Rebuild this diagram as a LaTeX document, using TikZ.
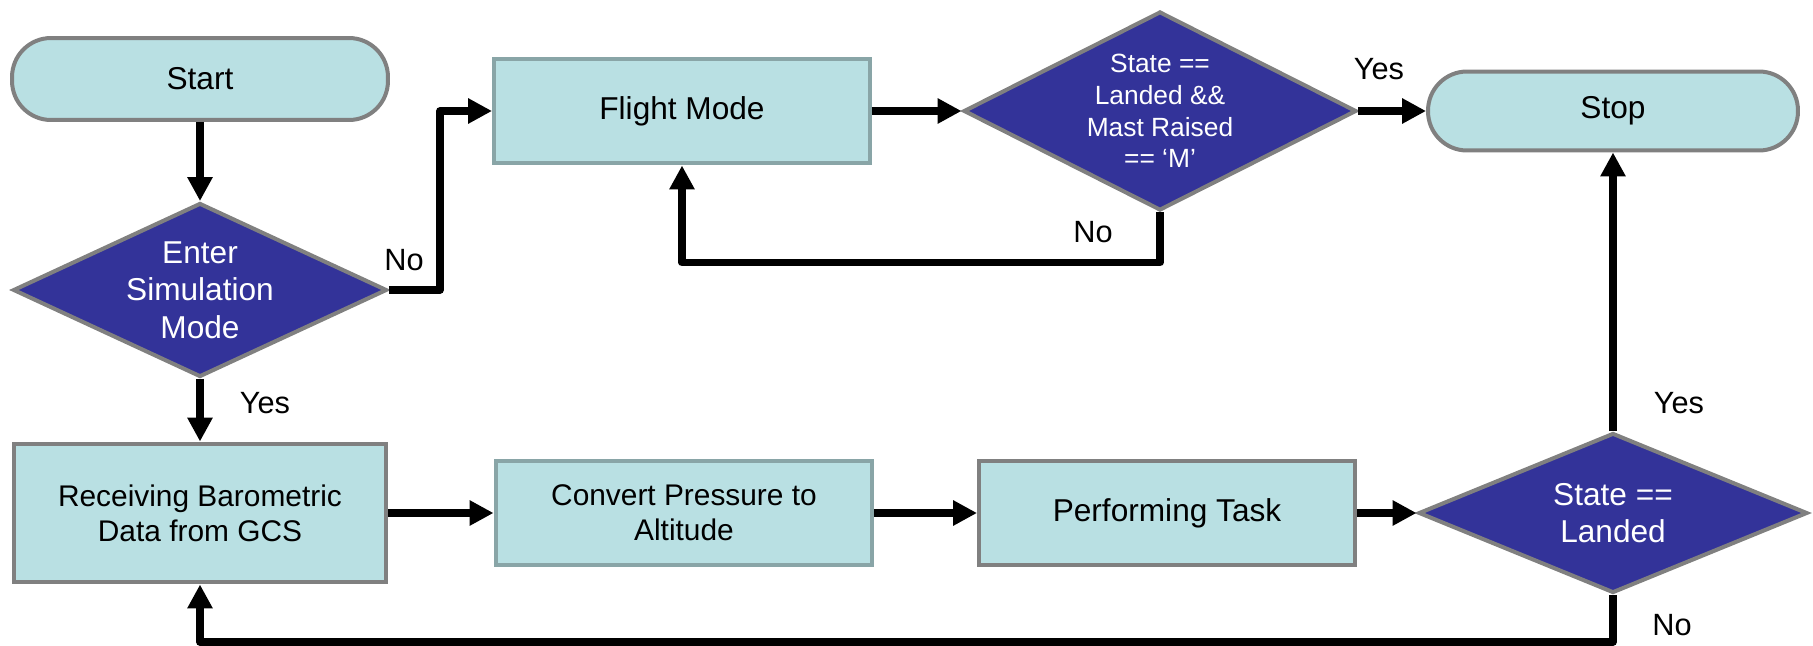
\documentclass[tikz,border=0pt]{standalone}
\usepackage{fontspec}
\setmainfont{Liberation Sans}
\usepackage{xcolor}
\usetikzlibrary{shapes.geometric,arrows.meta}

\definecolor{boxfill}{HTML}{B9E0E3}
\definecolor{decfill}{HTML}{333399}
\definecolor{rimgrey}{HTML}{808080}
\definecolor{rimteal}{HTML}{89A5A7}

\tikzset{
  terminal/.style={draw=rimgrey, fill=boxfill, line width=0.08cm, rounded corners=0.78cm,
    inner sep=0pt, font=\fontsize{18}{21.6}\selectfont},
  process/.style={draw=rimgrey, fill=boxfill, line width=0.08cm, inner sep=0pt,
    align=center, font=\fontsize{17}{20}\selectfont},
  decision/.style={diamond, draw=rimgrey, fill=decfill, text=white, line width=0.08cm,
    inner sep=0pt, align=center, font=\fontsize{18}{21.3}\selectfont},
  arrow/.style={line width=0.15cm, line join=round, -{Triangle[length=0.48cm,width=0.48cm]}},
  lbl/.style={font=\fontsize{17.5}{20}\selectfont}
}

\begin{document}
\begin{tikzpicture}[x=0.02cm, y=-0.02cm]
\useasboundingbox (0,0) rectangle (1813,646);
% top row
\node[terminal, minimum width=7.52cm, minimum height=1.64cm] (start) at (200,79) {Start};
\node[decision, minimum width=7.48cm, minimum height=3.48cm, aspect=2.15] (sim) at (200,290) {Enter\\Simulation\\Mode};
\node[process, draw=rimteal, minimum width=7.52cm, minimum height=2.1cm, font=\fontsize{18}{21.6}\selectfont] (flight) at (682,111) {Flight Mode};
\node[decision, minimum width=7.86cm, minimum height=3.98cm, aspect=1.97, font=\fontsize{15}{18.1}\selectfont] (check) at (1160,111) {State ==\\Landed \&\&\\Mast Raised\\== ‘M’};
\node[terminal, minimum width=7.4cm, minimum height=1.58cm] (stop) at (1613,111) {Stop};
% bottom row
\node[process, minimum width=7.46cm, minimum height=2.78cm] (recv) at (200,513) {Receiving Barometric\\Data from GCS};
\node[process, draw=rimteal, minimum width=7.54cm, minimum height=2.1cm] (convert) at (684,513) {Convert Pressure to\\Altitude};
\node[process, minimum width=7.52cm, minimum height=2.08cm, font=\fontsize{18}{21.6}\selectfont] (task) at (1167,513) {Performing Task};
\node[decision, minimum width=7.78cm, minimum height=3.2cm, aspect=2.4] (landed) at (1613,513) {State ==\\Landed};

% connectors
\draw[arrow] (start) -- (sim);
\draw[arrow] (sim.east) -- ++(51,0) |- (flight.west);
\draw[arrow] (flight) -- (check);
\draw[arrow] (check) -- (stop);
\draw[arrow] (check.south) -- ++(0,50) -| (flight.south);
\draw[arrow] (sim) -- (recv);
\draw[arrow] (recv) -- (convert);
\draw[arrow] (convert) -- (task);
\draw[arrow] (task) -- (landed);
\draw[arrow] (landed) -- (stop);
\draw[arrow] (landed.south) -- ++(0,47) -| (recv.south);

% branch labels
\node[lbl] (simno) at (404,260) {No};
\node[lbl] (simyes) at (265,403) {Yes};
\node[lbl] (checkno) at (1093,232) {No};
\node[lbl] (checkyes) at (1379,69) {Yes};
\node[lbl] (landedyes) at (1679,403) {Yes};
\node[lbl] (landedno) at (1672,625) {No};
\end{tikzpicture}
\end{document}
